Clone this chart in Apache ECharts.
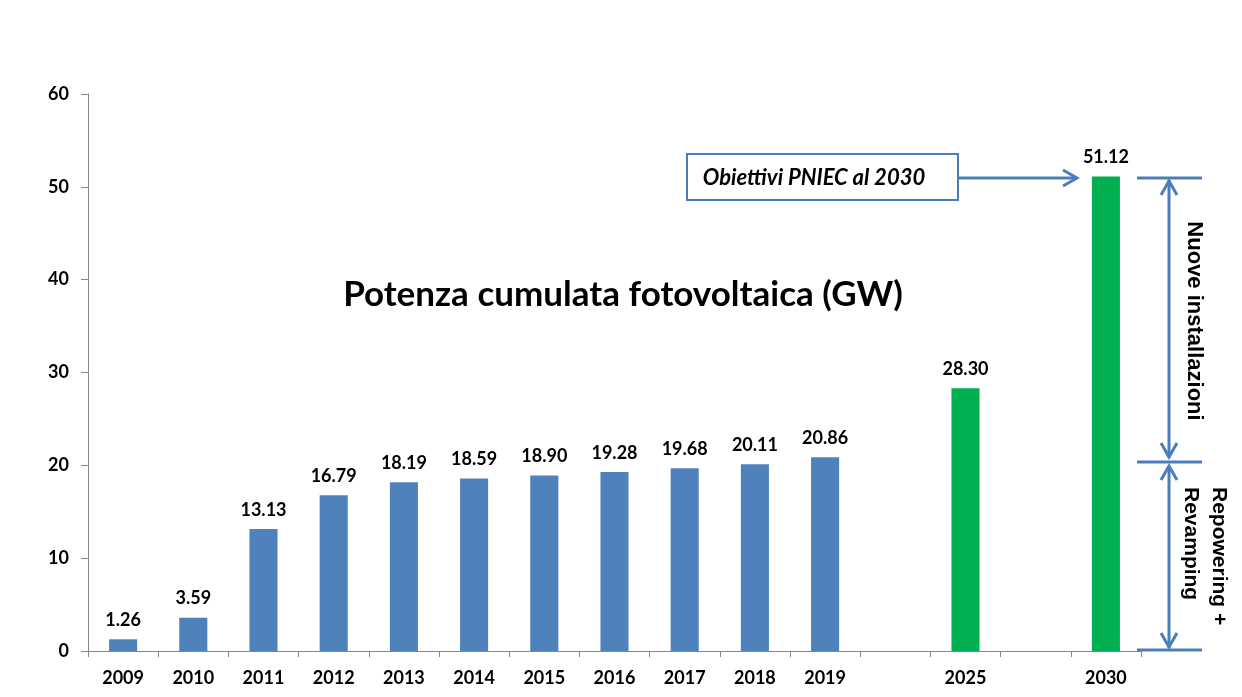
<!DOCTYPE html>
<html>
<head>
<meta charset="utf-8">
<script src="https://cdn.jsdelivr.net/npm/echarts@6/dist/echarts.min.js"></script>
<style>
html,body{margin:0;padding:0;background:#fff;}
#c{width:1242px;height:697px;}
</style>
</head>
<body>
<div id="c"></div>
<script>
const categories = ["2009","2010","2011","2012","2013","2014","2015","2016","2017","2018","2019","","2025","","2030"];
const values = [1.26,3.59,13.13,16.79,18.19,18.59,18.90,19.28,19.68,20.11,20.86,null,28.30,null,51.12];
const targetYears = ["2025","2030"];
const yTicks = {min:0,max:60,interval:10};
const titleText = "Potenza cumulata fotovoltaica (GW)";
const boxText = "Obiettivi PNIEC al 2030";
const labelNew = "Nuove installazioni";
const labelRepower = "Repowering +\nRevamping";

const BLUE = "#4F81BD", GREEN = "#00B050", LINE = "#4A7EBB", AXIS = "#868686";
const chart = echarts.init(document.getElementById('c'), null, {renderer:'canvas'});

function vArrowHead(x, y, dir){ // dir -1 up, +1 down; tip at (x,y)
  return {type:'polyline', shape:{points:[[x-8,y-dir*14],[x,y],[x+8,y-dir*14]]},
    style:{stroke:LINE,lineWidth:3,fill:null}, z:10};
}

const option = {
  animation:false,
  backgroundColor:'#fff',
  grid:{left:88,right:101,top:94,bottom:46,containLabel:false},
  xAxis:{type:'category',data:categories,boundaryGap:true,
    axisLine:{lineStyle:{color:AXIS,width:1}},
    axisTick:{show:true,interval:0,length:6,lineStyle:{color:AXIS}},
    axisLabel:{interval:0,margin:18,color:'#000',fontFamily:'Lato',fontWeight:'bold',fontSize:18}},
  yAxis:{type:'value',min:yTicks.min,max:yTicks.max,interval:yTicks.interval,
    axisLine:{show:true,lineStyle:{color:AXIS,width:1}},
    axisTick:{show:true,length:7,lineStyle:{color:AXIS}},
    splitLine:{show:false},
    axisLabel:{margin:19,color:'#000',fontFamily:'Lato',fontWeight:'bold',fontSize:18}},
  series:[{type:'bar',data:values,barWidth:'40%',
    itemStyle:{color:p=>targetYears.includes(p.name)?GREEN:BLUE},
    label:{show:true,position:'top',distance:10,color:'#000',fontFamily:'Lato',fontWeight:'bold',fontSize:18,
      formatter:p=>p.value==null?'':p.value.toFixed(2)}}],
  graphic:[
    {type:'text',x:623,y:295,style:{text:titleText,fill:'#000',font:'bold 35px Lato',textAlign:'center',textVerticalAlign:'middle'}},
    {type:'rect',shape:{x:687,y:154,width:271,height:46},style:{fill:'#fff',stroke:LINE,lineWidth:2}},
    {type:'text',x:814,y:178,style:{text:boxText,fill:'#000',font:'italic bold 22px Lato',textAlign:'center',textVerticalAlign:'middle'}},
    {type:'line',shape:{x1:958,y1:178,x2:1076,y2:178},style:{stroke:LINE,lineWidth:3}},
    {type:'polyline',shape:{points:[[1063,170],[1077,178],[1063,186]]},style:{stroke:LINE,lineWidth:3,fill:null}},
    {type:'line',shape:{x1:1137,y1:178,x2:1202,y2:178},style:{stroke:LINE,lineWidth:3}},
    {type:'line',shape:{x1:1137,y1:462,x2:1202,y2:462},style:{stroke:LINE,lineWidth:3}},
    {type:'line',shape:{x1:1137,y1:650,x2:1202,y2:650},style:{stroke:LINE,lineWidth:3}},
    {type:'line',shape:{x1:1169,y1:180,x2:1169,y2:458},style:{stroke:LINE,lineWidth:3}},
    vArrowHead(1169,181,-1), vArrowHead(1169,457,1),
    {type:'line',shape:{x1:1169,y1:466,x2:1169,y2:648},style:{stroke:LINE,lineWidth:3}},
    vArrowHead(1169,466,-1), vArrowHead(1169,647,1),
    {type:'text',x:1194,y:321,rotation:-Math.PI/2,style:{text:labelNew,fill:'#000',font:'bold 22px "Liberation Sans"',textAlign:'center',textVerticalAlign:'middle'}},
    {type:'text',x:1205,y:487,rotation:-Math.PI/2,style:{text:labelRepower,fill:'#000',font:'bold 21px "Liberation Sans"',lineHeight:28,textAlign:'left',textVerticalAlign:'middle'}}
  ]
};
chart.setOption(option);
</script>
</body>
</html>
